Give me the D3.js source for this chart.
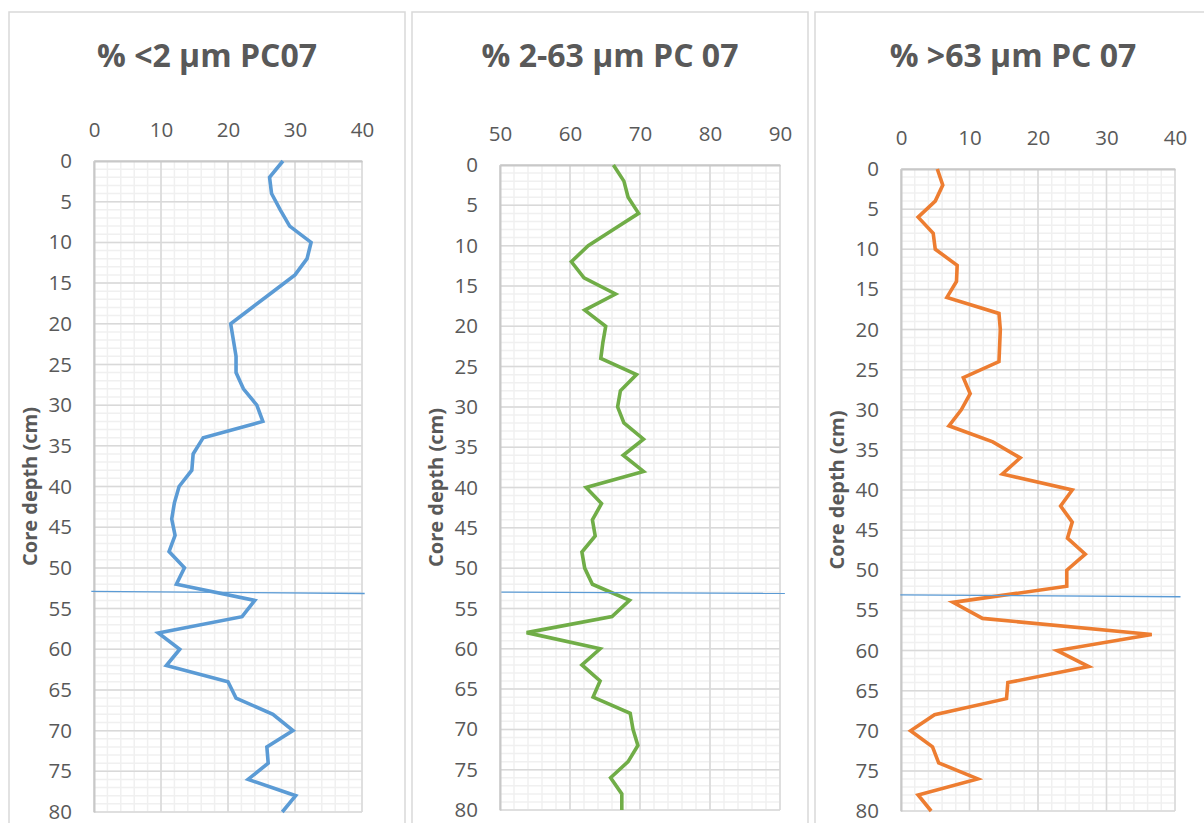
<!DOCTYPE html>
<html>
<head>
<meta charset="utf-8">
<script src="https://cdn.jsdelivr.net/npm/d3@7"></script>
<style>
  body { margin: 0; background: #fff; }
  svg { display: block; font-family: "Open Sans", "Noto Sans", sans-serif; }
</style>
</head>
<body>
<svg id="chart" width="1204" height="823"></svg>
<script>
// core depth (cm), one sample every 2 cm
var depths = [0, 2, 4, 6, 8, 10, 12, 14, 16, 18, 20, 22, 24, 26, 28, 30, 32, 34, 36, 38, 40,
              42, 44, 46, 48, 50, 52, 54, 56, 58, 60, 62, 64, 66, 68, 70, 72, 74, 76, 78, 80];

// % <2 µm
var clay = [28.2, 26.2, 26.5, 27.8, 29.2, 32.4, 31.8, 30.0, 26.8, 23.6, 20.4, 20.8, 21.2, 21.2,
            22.3, 24.3, 25.2, 16.3, 14.8, 14.6, 12.7, 12.0, 11.6, 12.1, 11.2, 13.5, 12.3, 24.0,
            22.1, 9.6, 12.8, 10.8, 20.0, 21.2, 26.7, 29.7, 25.8, 26.0, 23.0, 30.1, 28.1];

// % 2-63 µm
var silt = [66.2, 67.7, 68.3, 69.8, 66.2, 62.6, 60.2, 62.0, 66.5, 62.1, 65.1, 64.7, 64.4, 69.5,
            67.2, 66.8, 67.7, 70.5, 67.6, 70.5, 62.3, 64.5, 63.2, 63.6, 61.7, 62.1, 63.2, 68.5,
            66.0, 53.8, 64.3, 61.7, 64.3, 63.3, 68.6, 69.0, 69.7, 68.3, 65.8, 67.4, 67.4];

// % >63 µm
var sand = [5.3, 6.1, 5.0, 2.5, 4.7, 5.0, 8.2, 8.1, 6.7, 14.3, 14.5, 14.4, 14.3, 9.1,
            10.1, 8.8, 7.0, 13.4, 17.4, 14.8, 25.0, 23.3, 25.0, 24.3, 26.9, 24.2, 24.2, 7.6,
            11.9, 36.6, 22.8, 27.4, 15.6, 15.4, 4.9, 1.4, 4.6, 5.5, 11.2, 2.5, 4.4];

var titles = ["% <2 µm PC07", "% 2-63 µm PC 07", "% >63 µm PC 07"];
var xTicks = [[0, 10, 20, 30, 40], [50, 60, 70, 80, 90], [0, 10, 20, 30, 40]];
var depthTicks = [0, 5, 10, 15, 20, 25, 30, 35, 40, 45, 50, 55, 60, 65, 70, 75, 80];
var axisTitle = "Core depth (cm)";

// hand-drawn marker line near 53 cm: [x start, depth], [x end, depth]
var markerLines = [
    [[-0.4, 52.9], [40.4, 53.15]],
    [[50.2, 52.98], [90.7, 53.14]],
    [[-0.1, 53.08], [40.8, 53.3]]
];

var colors = ["#5b9bd5", "#70ad47", "#ed7d31"];
var series = [clay, silt, sand];

// box = outer chart frame, plot = inner plot area (pixels)
var layout = [
    { box: [9, 405], plot: { left: 94, right: 362, top: 161, bottom: 812 } },
    { box: [412, 808], plot: { left: 500, right: 780, top: 165, bottom: 810 } },
    { box: [815, 1211], plot: { left: 901, right: 1175, top: 169, bottom: 811 } }
];

var svg = d3.select("#chart");

layout.forEach(function(lay, i) {
    var p = lay.plot;
    var ticks = xTicks[i];
    var x = d3.scaleLinear().domain([ticks[0], ticks[ticks.length - 1]]).range([p.left, p.right]);
    var y = d3.scaleLinear().domain([0, 80]).range([p.top, p.bottom]);

    var g = svg.append("g").attr("class", "panel");

    // chart frame
    g.append("rect")
        .attr("x", lay.box[0])
        .attr("y", 12)
        .attr("width", lay.box[1] - lay.box[0])
        .attr("height", 830)
        .attr("fill", "#fff")
        .attr("stroke", "#d9d9d9")
        .attr("stroke-width", 1.5);

    // title
    g.append("text")
        .attr("x", (lay.box[0] + lay.box[1]) / 2)
        .attr("y", 66.5)
        .attr("text-anchor", "middle")
        .attr("font-size", 32)
        .attr("font-weight", "bold")
        .attr("fill", "#595959")
        .text(titles[i]);

    // minor grid
    var xMinor = d3.range(ticks[0], ticks[ticks.length - 1] + 0.01, 2);
    var yMinor = d3.range(0, 80.01, 1);
    g.append("g").selectAll("line.vminor").data(xMinor).join("line")
        .attr("x1", d => x(d)).attr("x2", d => x(d))
        .attr("y1", p.top).attr("y2", p.bottom)
        .attr("stroke", "#f0f0f0").attr("stroke-width", 1.5);
    g.append("g").selectAll("line.hminor").data(yMinor).join("line")
        .attr("x1", p.left).attr("x2", p.right)
        .attr("y1", d => y(d)).attr("y2", d => y(d))
        .attr("stroke", "#f0f0f0").attr("stroke-width", 1.5);

    // major grid
    g.append("g").selectAll("line.vmajor").data(ticks).join("line")
        .attr("x1", d => x(d)).attr("x2", d => x(d))
        .attr("y1", p.top).attr("y2", p.bottom)
        .attr("stroke", "#d9d9d9").attr("stroke-width", 1.5);
    g.append("g").selectAll("line.hmajor").data(depthTicks).join("line")
        .attr("x1", p.left).attr("x2", p.right)
        .attr("y1", d => y(d)).attr("y2", d => y(d))
        .attr("stroke", "#d9d9d9").attr("stroke-width", 1.5);

    // axes
    var xAxis = d3.axisTop(x).tickValues(ticks).tickSize(0).tickPadding(24);
    var yAxis = d3.axisLeft(y).tickValues(depthTicks).tickSize(0).tickPadding(22);

    var gx = g.append("g").attr("transform", "translate(0," + p.top + ")").call(xAxis);
    var gy = g.append("g").attr("transform", "translate(" + p.left + ",0)").call(yAxis);
    [gx, gy].forEach(function(ax) {
        ax.attr("font-family", "'Open Sans', 'Noto Sans', sans-serif").attr("font-size", 20.5);
        ax.select(".domain").attr("stroke", "#c8c8c8").attr("stroke-width", 2);
        ax.selectAll("text").attr("fill", "#595959");
    });

    // axis title
    g.append("text")
        .attr("transform", "translate(" + (p.left - 57) + "," + ((p.top + p.bottom) / 2) + ") rotate(-90)")
        .attr("text-anchor", "middle")
        .attr("font-size", 20)
        .attr("font-weight", "bold")
        .attr("fill", "#595959")
        .text(axisTitle);

    // data line
    var line = d3.line()
        .x(function(d) { return x(d[1]); })
        .y(function(d) { return y(d[0]); });

    g.append("path")
        .datum(depths.map(function(dep, j) { return [dep, series[i][j]]; }))
        .attr("fill", "none")
        .attr("stroke", colors[i])
        .attr("stroke-width", 3.6)
        .attr("stroke-linejoin", "miter")
        .attr("d", line);

    // marker line
    var m = markerLines[i];
    g.append("line")
        .attr("x1", x(m[0][0])).attr("y1", y(m[0][1]))
        .attr("x2", x(m[1][0])).attr("y2", y(m[1][1]))
        .attr("stroke", "#5b9bd5")
        .attr("stroke-width", 1.3);
});
</script>
</body>
</html>
